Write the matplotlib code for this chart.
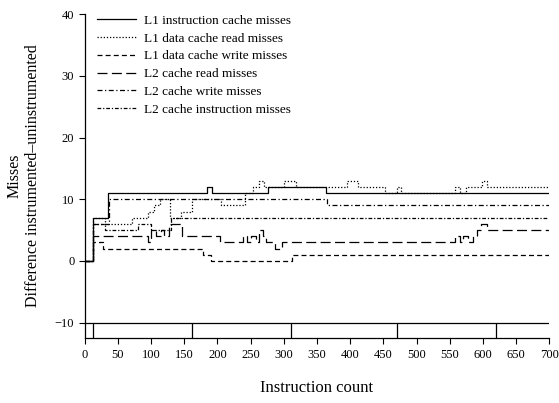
import matplotlib
matplotlib.use("Agg")
import matplotlib.pyplot as plt

plt.rcParams['font.family'] = ['Liberation Serif', 'DejaVu Serif']

# Step series (x breakpoints, values; steps-post)
l1i_x = [0, 13, 35, 185, 192, 276, 363, 700]
l1i_y = [0, 7, 11, 12, 11, 12, 11, 11]

l1dr_x = [0, 13, 30, 56, 71, 96, 105, 114, 129, 145, 162, 180, 205, 242, 254, 262, 270,
          290, 300, 310, 318, 362, 395, 412, 453, 470, 476, 558, 565, 575, 590, 598, 606, 700]
l1dr_y = [0, 7, 6, 6, 7, 8, 9, 10, 7, 8, 10, 10, 9, 11, 12, 13, 12,
          12, 13, 13, 12, 12, 13, 12, 11, 12, 11, 12, 11, 12, 12, 13, 12, 12]

l1dw_x = [0, 13, 28, 178, 190, 312, 700]
l1dw_y = [0, 3, 2, 1, 0, 1, 1]

l2r_x = [0, 13, 95, 100, 108, 115, 120, 127, 146, 204, 239, 244, 251, 258, 263, 268, 273,
         280, 286, 297, 558, 565, 570, 578, 585, 591, 597, 606, 700]
l2r_y = [0, 4, 3, 5, 4, 5, 4, 6, 4, 3, 4, 3, 4, 3, 5, 4, 3,
         3, 2, 3, 4, 3, 4, 3, 4, 5, 6, 5, 5]

l2w_x = [0, 13, 37, 365, 700]
l2w_y = [0, 6, 10, 9, 9]

l2i_x = [0, 13, 30, 60, 80, 100, 130, 700]
l2i_y = [0, 6, 5, 5, 6, 5, 7, 7]

labels = ["L1 instruction cache misses", "L1 data cache read misses",
          "L1 data cache write misses", "L2 cache read misses",
          "L2 cache write misses", "L2 cache instruction misses"]

event_x = [13, 162, 311, 471, 620]
xticks = list(range(0, 701, 50))
yticks = [-10, 0, 10, 20, 30, 40]

fig = plt.figure(figsize=(5.59, 4.03), dpi=100)
ax = fig.add_axes([0.1515, 0.161, 0.8312, 0.804])

series = [(l1i_x, l1i_y, '-'),
          (l1dr_x, l1dr_y, (0, (1, 1.5))),
          (l1dw_x, l1dw_y, (0, (4, 2.5))),
          (l2r_x, l2r_y, (0, (8, 3.5))),
          (l2w_x, l2w_y, (0, (4, 2, 1, 2))),
          (l2i_x, l2i_y, (0, (3, 1.5, 1, 1.5)))]
for (x, y, ls), lab in zip(series, labels):
    ax.plot(x, y, drawstyle='steps-post', color='black', lw=0.9, linestyle=ls, label=lab)

ax.axhline(-10, color='black', lw=0.9)
ax.vlines(event_x, -12.5, -10, color='black', lw=0.9)

ax.set_xlim(0, 700)
ax.set_ylim(-12.5, 40)
ax.set_xticks(xticks)
ax.set_yticks(yticks)
ax.tick_params(labelsize=9, length=4, width=0.8, direction='out')
for s in ['top', 'right']:
    ax.spines[s].set_visible(False)
for s in ['left', 'bottom']:
    ax.spines[s].set_linewidth(0.9)

ax.set_xlabel("Instruction count", fontsize=12, labelpad=14)
ax.set_ylabel("Misses\nDifference instrumented\u2013uninstrumented", fontsize=11.5,
              linespacing=1.15)
ax.yaxis.set_label_coords(-0.095, 0.5)

leg = ax.legend(loc='upper left', bbox_to_anchor=(0.0, 1.035), frameon=False, fontsize=9.5,
                handlelength=3.0, labelspacing=0.42, handletextpad=0.6)

fig.savefig("out.png", dpi=100)
